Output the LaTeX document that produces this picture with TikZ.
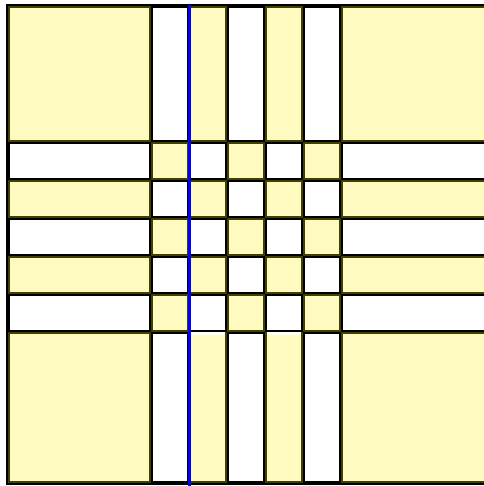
\documentclass[tikz,border=0pt]{standalone}
\usetikzlibrary{calc}
\definecolor{padyellow}{RGB}{255,250,192}
\definecolor{padedge}{RGB}{64,64,0}
\tikzset{
    yellowfill/.style={fill=padyellow},
    whitefill/.style={fill=white},
    yellowedge/.style={draw=padedge,line width=0.04cm},
    whiteedge/.style={draw=black,line width=0.04cm},
    frameline/.style={draw=black,line width=0.04cm},
    cutline/.style={draw=blue,line width=0.06cm}
}
\begin{document}
\begin{tikzpicture}[x=0.02cm,y=-0.02cm]
    \useasboundingbox (0,0) rectangle (483,486);
    \fill[white] (0,0) rectangle (483,486);
    % cells, white where exactly one strip crosses
    \foreach \xa/\xb/\cx in {8/151/0,151/189/1,189/227/0,227/265/1,265/303/0,303/341/1,341/490/0}{
        \foreach \ya/\yb/\cy in {6/142/0,142/180/1,180/218/0,218/256/1,256/294/0,294/332/1,332/483/0}{
            \pgfmathtruncatemacro{\odd}{mod(\cx+\cy,2)}
            \ifnum\odd=0
                \def\cellfill{yellowfill}\def\celledge{yellowedge}
            \else
                \def\cellfill{whitefill}\def\celledge{whiteedge}
            \fi
            \fill[\cellfill] (\xa,\ya) rectangle (\xb,\yb);
            \draw[\celledge] ({\xa+1},{\ya+1}) rectangle ({\xb-1},{\yb-1});
        }
    }
    % small gap above the lower strips
    \foreach \xa/\xb in {189/227,265/303}
        \fill[white] ({\xa+2},332) rectangle ({\xb-2},335);
    \draw[frameline] (7,5) rectangle (490,484);
    \draw[cutline] (189,5) -- (189,486);
\end{tikzpicture}
\end{document}
